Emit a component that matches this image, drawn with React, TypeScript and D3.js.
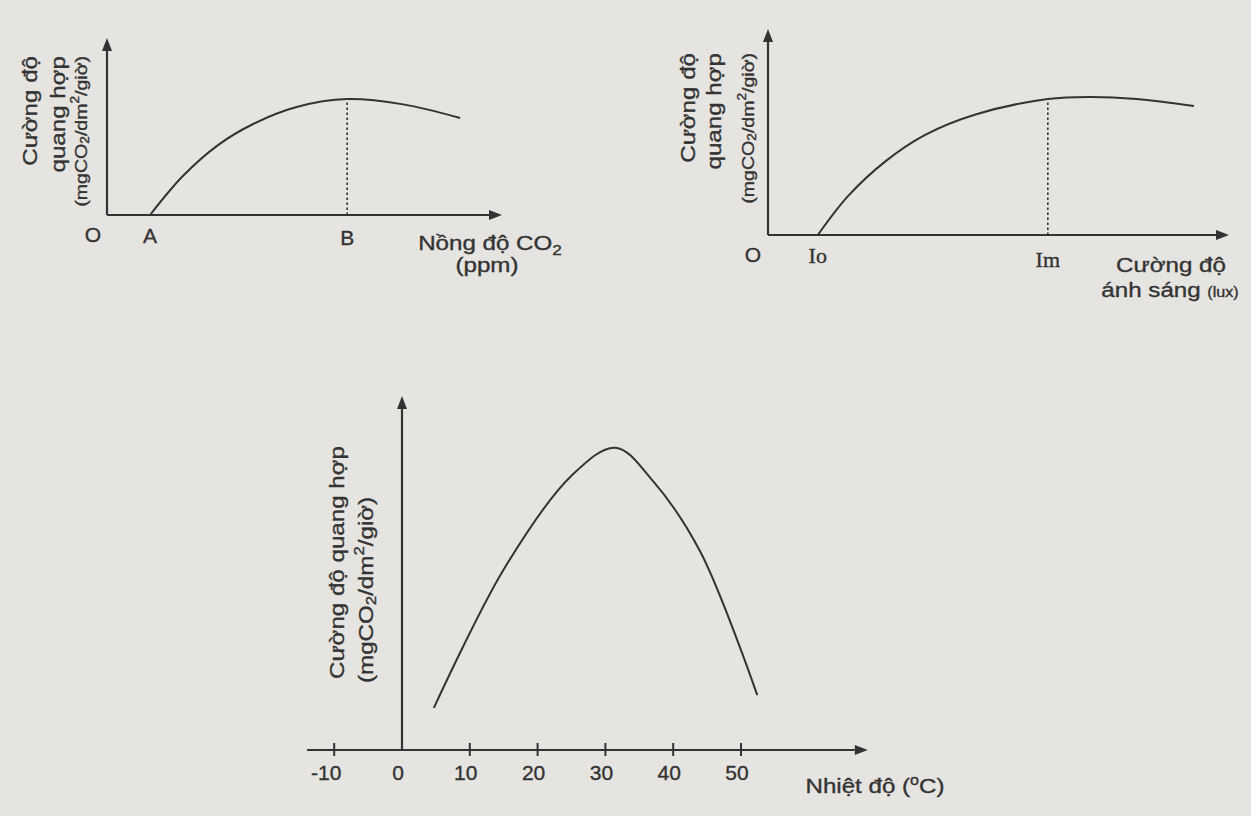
import React from 'react';
import * as d3 from 'd3';

const W = 1251;
const H = 816;
const PAPER = '#e6e4e0';
const INK = '#333333';
const SANS = '"Liberation Sans", Arial, sans-serif';
const SERIF = '"Liberation Serif", "Times New Roman", serif';
const STRETCH = 1.15;

// CO2 panel (arbitrary units, 0-100 on both axes)
const co2Levels = [10.9, 19.2, 28.1, 37, 48, 60.8, 75, 89.4];
const co2Rates = [0, 22, 39.5, 51.4, 61, 65.5, 62.5, 54.8];
const co2KeyLabels = ['A', 'B'];
const co2KeyValues = [10.9, 60.8];

// light panel
const lightLevels = [10.8, 17.4, 25.6, 34, 45, 60.7, 70, 80, 92.4];
const lightRates = [0, 19, 36, 48.5, 58.5, 66, 67, 66, 62.6];
const lightKeyLabels = ['Io', 'Im'];
const lightKeyValues = [10.8, 60.7];

// temperature panel (°C)
const temps = [4.7, 15, 25, 31.5, 37, 44, 52.4];
const tempRates = [11.9, 51, 77.5, 85.4, 76, 56, 15.5];
const tempTicks = [-10, 0, 10, 20, 30, 40, 50];
const tempAxisMin = -14;
const tempAxisMax = 68.7;

function Arrow({ x1, y1, x2, y2 }: { x1: number; y1: number; x2: number; y2: number }) {
  const a = Math.atan2(y2 - y1, x2 - x1);
  const len = 13;
  const half = 5;
  const bx = x2 - len * Math.cos(a);
  const by = y2 - len * Math.sin(a);
  const px = -Math.sin(a) * half;
  const py = Math.cos(a) * half;
  return (
    <g>
      <line x1={x1} y1={y1} x2={bx} y2={by} stroke={INK} strokeWidth={2.2} />
      <path d={`M${x2},${y2}L${bx + px},${by + py}L${bx - px},${by - py}Z`} fill={INK} />
    </g>
  );
}

function Units({ size }: { size: number }) {
  return (
    <>
      (mgCO
      <tspan fontSize={size * 0.7} dy={size * 0.22}>2</tspan>
      <tspan dy={-size * 0.22}>/dm</tspan>
      <tspan fontSize={size * 0.7} dy={-size * 0.38}>2</tspan>
      <tspan dy={size * 0.38}>/giờ)</tspan>
    </>
  );
}

const textStyle = { fill: INK, stroke: INK, strokeWidth: 0.35 };

function VLabel({ x, y, anchor, size, children }: any) {
  return (
    <text
      transform={`translate(${x},${y}) rotate(-90) scale(${STRETCH},1)`}
      textAnchor={anchor}
      dominantBaseline="central"
      fontSize={size}
      fontFamily={SANS}
      style={textStyle}
    >
      {children}
    </text>
  );
}

function HLabel({ x, y, size = 21, anchor = 'middle', children }: any) {
  return (
    <text
      transform={`translate(${x},${y}) scale(${STRETCH},1)`}
      textAnchor={anchor}
      fontSize={size}
      fontFamily={SANS}
      style={textStyle}
    >
      {children}
    </text>
  );
}

export default function App() {
  const curve = d3.curveCatmullRom.alpha(0.5);

  // panel 1
  const cx = d3.scaleLinear().domain([0, 100]).range([107, 502]);
  const cy = d3.scaleLinear().domain([0, 100]).range([215, 38]);
  const co2Line = d3
    .line<number>()
    .x((d) => cx(d))
    .y((_, i) => cy(co2Rates[i]))
    .curve(curve)(co2Levels);

  // panel 2
  const lx = d3.scaleLinear().domain([0, 100]).range([768, 1229]);
  const ly = d3.scaleLinear().domain([0, 100]).range([235, 29]);
  const lightLine = d3
    .line<number>()
    .x((d) => lx(d))
    .y((_, i) => ly(lightRates[i]))
    .curve(curve)(lightLevels);

  // panel 3
  const tx = d3.scaleLinear().domain([0, 50]).range([402, 741]);
  const ty = d3.scaleLinear().domain([0, 100]).range([750, 396]);
  const tempLine = d3
    .line<number>()
    .x((d) => tx(d))
    .y((_, i) => ty(tempRates[i]))
    .curve(curve)(temps);

  return (
    <svg
      width={W}
      height={H}
      viewBox={`0 0 ${W} ${H}`}
      style={{ position: 'absolute', left: 0, top: 0, display: 'block' }}
    >
      <rect width={W} height={H} fill={PAPER} />

      {/* CO2 */}
      <g>
        <Arrow x1={cx(0)} y1={cy(0)} x2={cx(0)} y2={cy(100)} />
        <Arrow x1={cx(0)} y1={cy(0)} x2={cx(100)} y2={cy(0)} />
        <line
          x1={cx(co2KeyValues[1])}
          x2={cx(co2KeyValues[1])}
          y1={cy(0)}
          y2={cy(co2Rates[co2Levels.indexOf(co2KeyValues[1])])}
          stroke={INK}
          strokeWidth={1.6}
          strokeDasharray="2.5 2.5"
        />
        <path d={co2Line || ''} fill="none" stroke={INK} strokeWidth={2} />
        <text x={cx(0) - 14} y={242} textAnchor="middle" fontSize={21} fontFamily={SANS} style={textStyle}>O</text>
        {co2KeyLabels.map((l, i) => (
          <text key={l} x={cx(co2KeyValues[i])} y={243 + i * 2} textAnchor="middle" fontSize={21} fontFamily={SANS} style={textStyle}>
            {l}
          </text>
        ))}
        <HLabel x={490} y={250}>
          Nồng độ CO<tspan fontSize={15} dy={5}>2</tspan>
        </HLabel>
        <HLabel x={487} y={272}>(ppm)</HLabel>
        <VLabel x={30} y={56} anchor="end" size={21}>Cường độ</VLabel>
        <VLabel x={58} y={56} anchor="end" size={21}>quang hợp</VLabel>
        <VLabel x={81} y={56} anchor="end" size={17}><Units size={17} /></VLabel>
      </g>

      {/* light */}
      <g>
        <Arrow x1={lx(0)} y1={ly(0)} x2={lx(0)} y2={ly(100)} />
        <Arrow x1={lx(0)} y1={ly(0)} x2={lx(100)} y2={ly(0)} />
        <line
          x1={lx(lightKeyValues[1])}
          x2={lx(lightKeyValues[1])}
          y1={ly(0)}
          y2={ly(lightRates[lightLevels.indexOf(lightKeyValues[1])])}
          stroke={INK}
          strokeWidth={1.6}
          strokeDasharray="2.5 2.5"
        />
        <path d={lightLine || ''} fill="none" stroke={INK} strokeWidth={2} />
        <text x={lx(0) - 15} y={262} textAnchor="middle" fontSize={21} fontFamily={SANS} style={textStyle}>O</text>
        {lightKeyLabels.map((l, i) => (
          <text key={l} x={lx(lightKeyValues[i])} y={263 + i * 4} textAnchor="middle" fontSize={22} fontFamily={SERIF} style={textStyle}>
            {l}
          </text>
        ))}
        <HLabel x={1171} y={272}>Cường độ</HLabel>
        <HLabel x={1170} y={297}>
          ánh sáng <tspan fontSize={14}>(lux)</tspan>
        </HLabel>
        <VLabel x={688} y={53} anchor="end" size={21}>Cường độ</VLabel>
        <VLabel x={714} y={53} anchor="end" size={21}>quang hợp</VLabel>
        <VLabel x={748} y={53} anchor="end" size={17}><Units size={17} /></VLabel>
      </g>

      {/* temperature */}
      <g>
        <Arrow x1={tx(0)} y1={ty(0)} x2={tx(0)} y2={ty(100)} />
        <Arrow x1={tx(tempAxisMin)} y1={ty(0)} x2={tx(tempAxisMax)} y2={ty(0)} />
        {tempTicks.map((t) => (
          <g key={t}>
            {t !== 0 && (
              <line x1={tx(t)} x2={tx(t)} y1={ty(0) - 7} y2={ty(0) + 6} stroke={INK} strokeWidth={2} />
            )}
            <text
              x={tx(t) - 4 - (t < 0 ? 4 : 0)}
              y={780}
              textAnchor="middle"
              fontSize={21}
              fontFamily={SANS}
              style={textStyle}
            >
              {t}
            </text>
          </g>
        ))}
        <path d={tempLine || ''} fill="none" stroke={INK} strokeWidth={2} />
        <HLabel x={875} y={793}>
          Nhiệt độ (<tspan fontSize={14} dy={-8}>o</tspan>
          <tspan dy={8}>C)</tspan>
        </HLabel>
        <VLabel x={337} y={679} anchor="start" size={21}>Cường độ quang hợp</VLabel>
        <VLabel x={366} y={683} anchor="start" size={21}><Units size={21} /></VLabel>
      </g>
    </svg>
  );
}
